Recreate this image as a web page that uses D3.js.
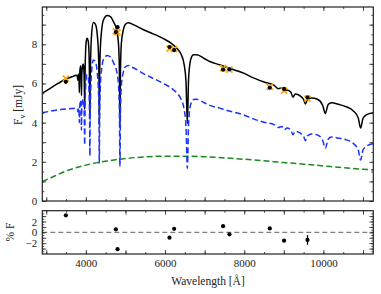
<!DOCTYPE html>
<html lang="en">
<head>
<meta charset="utf-8">
<title>sed fit</title>
<script src="https://d3js.org/d3.v7.min.js"></script>
<style>
body{margin:0;background:#fff;}
svg text{font-family:"Liberation Serif",serif;fill:#222;}
.tick text{font-size:11px;}
</style>
</head>
<body>
<div id="chart1"></div>
<script>
// model wavelengths (Å) and fluxes (mJy)
var wave = [2900,3100,3300,3500,3650,3760,3785,3798,3810,3826,3835,3845,3868,3880,3889,3898,3915,3935,3950,3960,3970,3980,3995,4010,4030,4060,4085,4095,4102,4109,4120,4145,4190,4240,4290,4318,4332,4340,4348,4362,4400,4450,4540,4620,4700,4780,4825,4848,4861,4874,4897,4950,5000,5070,5200,5500,5700,6000,6150,6300,6400,6480,6530,6563,6596,6650,6720,6800,7000,7130,7380,7500,8000,8250,8500,8750,8863,8950,9015,9080,9180,9229,9290,9420,9500,9546,9600,9700,9850,9980,10049,10120,10200,10400,10550,10750,10880,10938,11000,11080,11260]
var wdFlux = [4.50,4.58,4.65,4.70,4.72,4.73,4.70,4.55,4.75,4.74,4.00,4.80,5.15,4.70,3.62,4.75,5.10,5.20,4.90,4.30,2.86,4.70,5.90,6.30,6.45,6.30,5.30,4.00,2.30,4.00,5.30,6.60,7.20,7.10,6.50,5.60,4.20,1.92,4.20,5.60,6.75,7.25,7.42,7.35,7.05,6.60,5.90,4.40,1.75,4.40,5.90,6.60,6.85,6.92,6.80,6.45,6.26,5.95,5.77,5.50,5.22,4.70,3.80,1.67,4.00,4.95,5.18,5.19,5.00,4.88,4.74,4.66,4.38,4.18,4.02,3.90,3.75,3.80,3.64,3.72,3.62,3.38,3.55,3.46,3.30,3.08,3.33,3.42,3.37,3.10,2.69,3.15,3.26,3.20,3.14,2.95,2.60,2.09,2.60,2.78,2.92]
var totFlux = [5.50,5.75,6.00,6.23,6.34,6.42,6.36,6.16,6.47,6.45,5.53,6.52,6.90,6.36,5.38,6.47,6.88,6.99,6.70,6.10,4.67,6.51,7.73,8.14,8.30,8.16,7.17,5.87,4.18,5.89,7.19,8.50,9.11,9.03,8.45,7.56,6.17,3.89,6.18,7.58,8.74,9.26,9.46,9.41,9.14,8.71,8.02,6.53,3.88,6.54,8.05,8.76,9.02,9.10,9.00,8.70,8.53,8.24,8.06,7.79,7.51,6.99,6.09,3.96,6.29,7.23,7.46,7.46,7.26,7.12,6.95,6.86,6.51,6.27,6.07,5.91,5.73,5.77,5.60,5.67,5.55,5.30,5.46,5.35,5.18,4.95,5.19,5.26,5.19,4.89,4.47,4.92,5.01,4.92,4.83,4.61,4.24,3.72,4.22,4.39,4.50]
var compWave = [2900,3000,3500,4000,4500,5000,5500,6000,6500,7000,7500,8000,8500,9000,9500,10000,10500,11000,11260]
var compFlux = [1.00,1.08,1.53,1.83,2.03,2.17,2.25,2.29,2.29,2.26,2.20,2.13,2.05,1.96,1.88,1.79,1.70,1.62,1.58]

// photometry
var photWave = [3495,4758,4800,6113,6230,7467,7627,8646,9007,9598]
var photObs = [6.08,8.62,8.87,7.86,7.70,6.70,6.72,5.78,5.72,5.29]
var photModel = [6.25,8.66,8.60,7.78,7.75,6.78,6.70,5.82,5.63,5.22]
var residual = [3.15,0.55,-3.1,-0.98,0.65,1.15,-0.36,0.73,-1.53,-1.4]
var residErr = [0.2,0.2,0.2,0.2,0.2,0.2,0.2,0.2,0.2,0.9]

var xTickLabels = [4000,6000,8000,10000]
var yTicksTop = [0,2,4,6,8]
var yTicksBot = [-2,0,2]

var W = 381, H = 294
var left = 42.3, right = 373.3
var top1 = 7, bot1 = 201, top2 = 210.7, bot2 = 254

var x = d3.scaleLinear().domain([2900,11260]).range([left,right])
var y1 = d3.scaleLinear().domain([0,9.9]).range([bot1,top1])
var y2 = d3.scaleLinear().domain([-4,4]).range([bot2,top2])

var svg = d3.select("#chart1").append("svg").attr("width",W).attr("height",H)

svg.append("clipPath").attr("id","clip1").append("rect")
    .attr("x",left).attr("y",top1).attr("width",right-left).attr("height",bot1-top1)

var plot = svg.append("g").attr("clip-path","url(#clip1)")

var lineTot = d3.line().x(function(d,i){return x(wave[i])}).y(function(d){return y1(d)}).curve(d3.curveMonotoneX)
var lineComp = d3.line().x(function(d,i){return x(compWave[i])}).y(function(d){return y1(d)}).curve(d3.curveMonotoneX)

plot.append("path").attr("d",lineComp(compFlux)).attr("fill","none")
    .attr("stroke","#1a8a1a").attr("stroke-width",1.5).attr("stroke-dasharray","6,3")
plot.append("path").attr("d",lineTot(totFlux)).attr("fill","none")
    .attr("stroke","#000").attr("stroke-width",1.5)
plot.append("path").attr("d",lineTot(wdFlux)).attr("fill","none")
    .attr("stroke","#1a33ff").attr("stroke-width",1.5).attr("stroke-dasharray","6,3")

// photometry markers
var cross = 3
photWave.forEach(function(w,i){
    var cx = x(w), cy = y1(photModel[i])
    plot.append("path")
        .attr("d","M"+(cx-cross)+","+(cy-cross)+"L"+(cx+cross)+","+(cy+cross)+"M"+(cx-cross)+","+(cy+cross)+"L"+(cx+cross)+","+(cy-cross))
        .attr("stroke","#ffa500").attr("stroke-width",1.8)
})
plot.selectAll("circle.obs").data(photObs).enter().append("circle")
    .attr("class","obs")
    .attr("cx",function(d,i){return x(photWave[i])})
    .attr("cy",function(d){return y1(d)})
    .attr("r",2.1).attr("fill","#000")

// residual panel
svg.append("line").attr("x1",left).attr("x2",right).attr("y1",y2(0)).attr("y2",y2(0))
    .attr("stroke","#808080").attr("stroke-width",1.2).attr("stroke-dasharray","5,3")
svg.selectAll("line.err").data(residual).enter().append("line")
    .attr("class","err")
    .attr("x1",function(d,i){return x(photWave[i])}).attr("x2",function(d,i){return x(photWave[i])})
    .attr("y1",function(d,i){return y2(d-residErr[i])}).attr("y2",function(d,i){return y2(d+residErr[i])})
    .attr("stroke","#000").attr("stroke-width",1.3)
svg.selectAll("circle.res").data(residual).enter().append("circle")
    .attr("class","res")
    .attr("cx",function(d,i){return x(photWave[i])})
    .attr("cy",function(d){return y2(d)})
    .attr("r",2.1).attr("fill","#000")

// axes: inward ticks on all four sides
function addAxes(ys, yTop, yBot, majorY, minorY, labelsY, labelX){
    var xMajor = d3.range(3000,11261,1000), xMinor = d3.range(3000,11261,500)
    svg.append("g").attr("transform","translate(0,"+yBot+")")
        .call(d3.axisBottom(x).tickValues(xMinor).tickSize(-2).tickFormat(""))
    svg.append("g").attr("transform","translate(0,"+yBot+")")
        .call(d3.axisBottom(x).tickValues(xMajor).tickSize(-4).tickPadding(5)
            .tickFormat(function(d){return labelX && xTickLabels.indexOf(d)>=0 ? d : ""}))
    svg.append("g").attr("transform","translate(0,"+yTop+")")
        .call(d3.axisTop(x).tickValues(xMinor).tickSize(-2).tickFormat(""))
    svg.append("g").attr("transform","translate(0,"+yTop+")")
        .call(d3.axisTop(x).tickValues(xMajor).tickSize(-4).tickFormat(""))
    svg.append("g").attr("transform","translate("+left+",0)")
        .call(d3.axisLeft(ys).tickValues(minorY).tickSize(-2).tickFormat(""))
    svg.append("g").attr("transform","translate("+left+",0)")
        .call(d3.axisLeft(ys).tickValues(majorY).tickSize(-4).tickPadding(5)
            .tickFormat(function(d){return labelsY.indexOf(d)>=0 ? (d<0 ? "\u2212"+Math.abs(d) : d) : ""}))
    svg.append("g").attr("transform","translate("+right+",0)")
        .call(d3.axisRight(ys).tickValues(minorY).tickSize(-2).tickFormat(""))
    svg.append("g").attr("transform","translate("+right+",0)")
        .call(d3.axisRight(ys).tickValues(majorY).tickSize(-4).tickFormat(""))
    svg.append("rect").attr("x",left).attr("y",yTop).attr("width",right-left).attr("height",yBot-yTop)
        .attr("fill","none").attr("stroke","#222").attr("stroke-width",1.2)
}
addAxes(y1, top1, bot1, d3.range(0,9.9,1), d3.range(0,9.9,0.5), yTicksTop, false)
addAxes(y2, top2, bot2, d3.range(-3,3.1,1), d3.range(-3.5,3.9,0.5), yTicksBot, true)
svg.selectAll(".domain").remove()
svg.selectAll(".tick line").attr("stroke","#222").attr("stroke-width",0.8)

// axis titles
var fl = svg.append("text").attr("transform","translate(22,105) rotate(-90)")
    .attr("text-anchor","middle").style("font-size","11.5px")
fl.append("tspan").text("F")
fl.append("tspan").attr("dy",2.5).style("font-size","8.5px").text("\u03bd")
fl.append("tspan").attr("dy",-2.5).text(" [mJy]")

svg.append("text").attr("transform","translate(14,232) rotate(-90)")
    .attr("text-anchor","middle").style("font-size","11.5px").text("% F")

svg.append("text").attr("x",208).attr("y",285)
    .attr("text-anchor","middle").style("font-size","11.5px").text("Wavelength [\u00c5]")
</script>
</body>
</html>
